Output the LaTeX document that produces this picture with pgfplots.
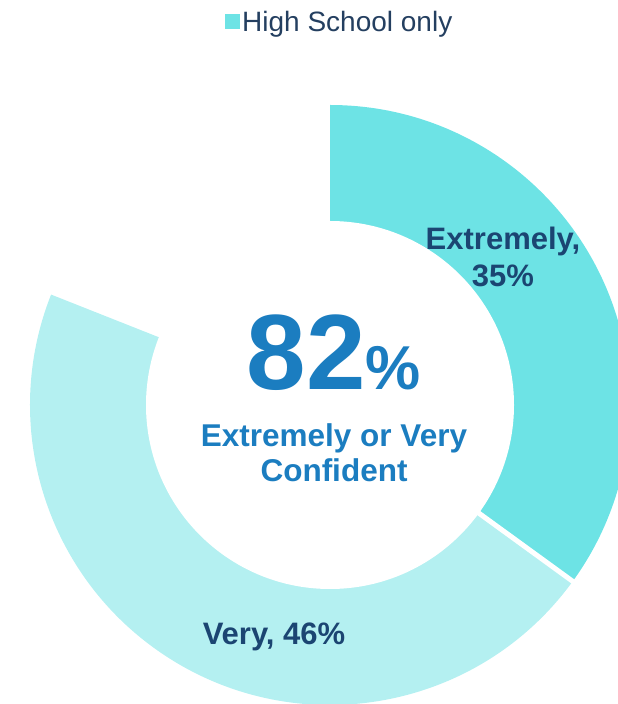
\documentclass[border=0pt]{standalone}
\usepackage{pgfplots}
\pgfplotsset{compat=1.18}
\usepackage{pgfplotstable}
\usepackage{fontspec}
\setmainfont{Liberation Sans}

\definecolor{extcol}{HTML}{6DE3E5}
\definecolor{verycol}{HTML}{B4F0F1}
\definecolor{labcol}{HTML}{1B4572}
\definecolor{midcol}{HTML}{1B7DC0}
\definecolor{legcol}{HTML}{243F60}

% share of respondents, percent
\pgfplotstableread{
label      value
Extremely  35
Very       46
}\confdata

\begin{document}
\begin{tikzpicture}
\pgfplotstablegetelem{0}{value}\of\confdata \let\vExt\pgfplotsretval
\pgfplotstablegetelem{1}{value}\of\confdata \let\vVery\pgfplotsretval
\pgfmathsetmacro{\aA}{90}
\pgfmathsetmacro{\aB}{90-3.6*\vExt}
\pgfmathsetmacro{\aC}{\aB-3.6*\vVery}
\useasboundingbox (0,0) rectangle (618pt,704pt);
\begin{axis}[
  at={(0,0)}, anchor=south west,
  width=618pt, height=704pt, scale only axis,
  xmin=0, xmax=618, ymin=0, ymax=704,
  hide axis, clip=true,
  legend style={draw=none, fill=none, at={(axis cs:225,682)}, anchor=west,
    font=\fontsize{28}{30}\selectfont\color{legcol}, inner sep=0pt,
    /tikz/every even column/.append style={column sep=8pt}},
  legend image code/.code={\fill[#1] (0pt,-7.5pt) rectangle (15pt,7.5pt);},
]
\addlegendimage{fill=extcol, draw=none}
\addlegendentry{High School only}
% sectors
\fill[extcol] (axis cs:330,299) -- +(\aA:300pt) arc[start angle=\aA, end angle=\aB, radius=300pt] -- cycle;
\fill[verycol] (axis cs:330,299) -- +(\aB:300pt) arc[start angle=\aB, end angle=\aC, radius=300pt] -- cycle;
\draw[white, line width=5pt] (axis cs:330,299) -- +(\aB:310pt);
\fill[white] (axis cs:330,299) circle[radius=184pt];
% labels
\node[text=labcol, font=\fontsize{31}{37}\selectfont\bfseries, anchor=base] at (axis cs:503,454) {Extremely,};
\node[text=labcol, font=\fontsize{31}{37}\selectfont\bfseries, anchor=base] at (axis cs:503,417) {\vExt\%};
\node[text=labcol, font=\fontsize{31}{36}\selectfont\bfseries, anchor=base] at (axis cs:274,59) {Very, \vVery\%};
\node[text=midcol, font=\fontsize{107}{110}\selectfont\bfseries, inner sep=0pt, anchor=base] at (axis cs:334,314)
  {82{\fontsize{62}{64}\selectfont\%}};
\node[text=midcol, font=\fontsize{31.5}{34}\selectfont\bfseries, anchor=base] at (axis cs:334,257) {Extremely or Very};
\node[text=midcol, font=\fontsize{31.5}{34}\selectfont\bfseries, anchor=base] at (axis cs:334,222) {Confident};
\end{axis}
\end{tikzpicture}
\end{document}
